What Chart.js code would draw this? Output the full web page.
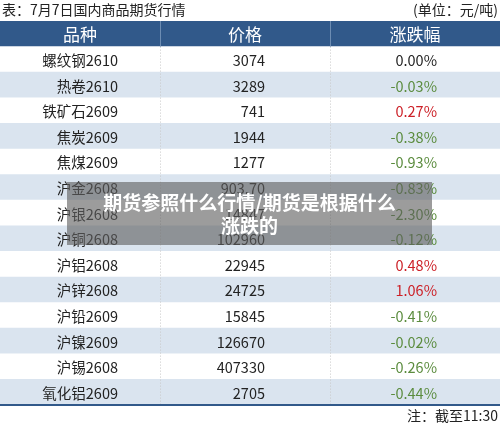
<!DOCTYPE html>
<html><head><meta charset="utf-8">
<script src="https://cdn.jsdelivr.net/npm/chart.js@4/dist/chart.umd.min.js"></script>
<style>
html,body{margin:0;padding:0;background:#fff;width:500px;height:427px;overflow:hidden;font-family:"Noto Sans CJK SC","Noto Sans",sans-serif}
#wrap{position:relative;width:500px;height:427px}
#wm{position:absolute;left:67px;top:182px;width:365px;height:63px;background:rgba(95,95,95,0.62);color:#fff;font-weight:bold;font-size:19px;line-height:23px;text-align:center;padding-top:8px;box-sizing:border-box}
</style></head><body>
<div id="wrap"><canvas id="c" width="500" height="427"></canvas>
<div id="wm">期货参照什么行情/期货是根据什么<br>涨跌的</div></div>
<script>
const title = "表：7月7日国内商品期货行情";
const unit = "(单位：元/吨)";
const note = "注：截至11:30";
const headers = ["品种", "价格", "涨跌幅"];
const names = ["螺纹钢2610","热卷2610","铁矿石2609","焦炭2609","焦煤2609","沪金2608","沪银2608","沪铜2608","沪铝2608","沪锌2608","沪铅2609","沪镍2609","沪锡2608","氧化铝2609"];
const prices = ["3074","3289","741","1944","1277","903.70","14847","102960","22945","24725","15845","126670","407330","2705"];
const changes = [0.00,-0.03,0.27,-0.38,-0.93,-0.83,-2.30,-0.12,0.48,1.06,-0.41,-0.02,-0.26,-0.44];

const rows = ["h"].concat(names);
const colEdges = [0,16,33,50];
const bg = rows.map((r,i)=> i===0 ? "#31598a" : (i%2===0 ? "#dae4ef" : "#ffffff"));

const tablePlugin = {
  id:"table",
  afterDatasetsDraw(chart){
    const {ctx, scales:{x,y}, chartArea:a} = chart;
    ctx.save();
    // vertical dotted lines
    ctx.strokeStyle="#c8c8c8"; ctx.setLineDash([1,2]); ctx.lineWidth=1;
    [colEdges[1],colEdges[2]].forEach(v=>{
      const px=Math.round(x.getPixelForValue(v))+0.5;
      ctx.beginPath(); ctx.moveTo(px, y.getPixelForValue(1)-12.8); ctx.lineTo(px,a.bottom); ctx.stroke();
    });
    ctx.setLineDash([]);
    // header separators
    ctx.strokeStyle="#6d8db3";
    [colEdges[1],colEdges[2]].forEach(v=>{
      const px=Math.round(x.getPixelForValue(v))+0.5;
      ctx.beginPath(); ctx.moveTo(px,a.top); ctx.lineTo(px,a.top+25.6); ctx.stroke();
    });
    // bottom line
    ctx.strokeStyle="#31598a"; ctx.lineWidth=2;
    ctx.beginPath(); ctx.moveTo(a.left,a.bottom); ctx.lineTo(a.right,a.bottom); ctx.stroke();
    ctx.textBaseline="middle";
    // headers
    ctx.fillStyle="#fff"; ctx.font='17px "Noto Sans CJK SC"'; ctx.textAlign="center";
    const hy=y.getPixelForValue(0)+1;
    [8,24.5,41.5].forEach((c,i)=>ctx.fillText(headers[i], x.getPixelForValue(c), hy));
    // body
    ctx.font='14.5px "Noto Sans CJK SC"'; ctx.textAlign="right";
    names.forEach((n,i)=>{
      const py=y.getPixelForValue(i+1)+1;
      ctx.fillStyle="#222";
      ctx.fillText(n, x.getPixelForValue(11.8), py);
      ctx.fillText(prices[i], x.getPixelForValue(26.5), py);
      const v=changes[i];
      ctx.fillStyle = v>0 ? "#cc2027" : (v<0 ? "#5b8c3e" : "#222");
      ctx.fillText(v.toFixed(2)+"%", x.getPixelForValue(43.7), py);
    });
    // title & notes
    ctx.fillStyle="#222"; ctx.font='14px "Noto Sans CJK SC"';
    ctx.textAlign="left"; ctx.fillText(title,2,10);
    ctx.textAlign="right"; ctx.fillText(unit,498,10);
    ctx.fillText(note,498,416);
    ctx.restore();
  }
};

new Chart(document.getElementById("c"),{
  type:"bar",
  data:{labels:rows,datasets:[{data:rows.map(()=>[colEdges[0],colEdges[3]]),backgroundColor:bg,borderWidth:0,barPercentage:1,categoryPercentage:1}]},
  options:{
    indexAxis:"y",responsive:false,animation:false,
    layout:{padding:{top:21,bottom:22,left:0,right:0}},
    plugins:{legend:{display:false},tooltip:{enabled:false},title:{display:false}},
    scales:{x:{display:false,min:0,max:50},y:{display:false}}
  },
  plugins:[tablePlugin]
});
</script></body></html>
